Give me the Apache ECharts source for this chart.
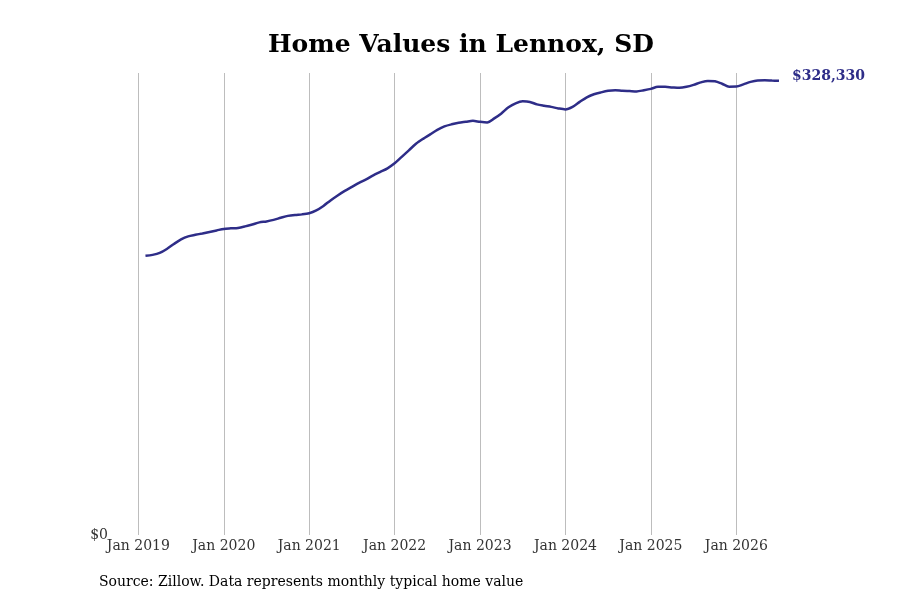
<!DOCTYPE html>
<html>
<head>
<meta charset="utf-8">
<title>Home Values in Lennox, SD</title>
<script src="https://cdn.jsdelivr.net/npm/echarts@6/dist/echarts.min.js"></script>
<style>
	html, body { margin: 0; padding: 0; background: #fff; }
	#chart { width: 900px; height: 600px; }
</style>
</head>
<body>
<div id="chart"></div>
<script>
// axis runs Oct 2018 .. Jul 2026, data starts Feb 2019
var start_year = 2018;
var start_month = 9; // 0-based, October
var month_names = ['Jan','Feb','Mar','Apr','May','Jun','Jul','Aug','Sep','Oct','Nov','Dec'];

// typical home value, Feb 2019 .. Jul 2026
var values_2019 = [201800, 202500, 203900, 206800, 210400, 213700, 215900, 217000, 218000, 219100, 220200];
var values_2020 = [221300, 221700, 222000, 223100, 224500, 226000, 226700, 227800, 229300, 230700, 231400, 231800];
var values_2021 = [232650, 234700, 237900, 241900, 245500, 248800, 251700, 254600, 257100, 260000, 262500, 265100];
var values_2022 = [268700, 273400, 278100, 282800, 286400, 289600, 292900, 295400, 296900, 298000, 298700, 299400];
var values_2023 = [298700, 298300, 301200, 304800, 309200, 312100, 313500, 313100, 311300, 310300, 309500, 308400];
var values_2024 = [307700, 309500, 313100, 316400, 318600, 320000, 321100, 321500, 321100, 320900, 320700, 321500];
var values_2025 = [322500, 324000, 324000, 323600, 323300, 324000, 325400, 327200, 328300, 328000, 326200, 324100];
var values_2026 = [324200, 325800, 327600, 328600, 328700, 328500, 328330];

var leading_gap = 4; // Oct 2018 .. Jan 2019 have no data
var y_max = 334000;

var values = [].concat(values_2019, values_2020, values_2021, values_2022,
	values_2023, values_2024, values_2025, values_2026);

var months = [];
var series_data = [];
var n_months = leading_gap + values.length;
for (let i = 0; i < n_months; i++) {
	var m = (start_month + i) % 12;
	var y = start_year + Math.floor((start_month + i) / 12);
	months.push(month_names[m] + ' ' + y);
	series_data.push(i < leading_gap ? null : values[i - leading_gap]);
}

function is_january(index, value) {
	return value.indexOf('Jan') === 0;
}

var serif = 'DejaVu Serif';
var line_color = '#2e2d88';

var chartDom = document.getElementById('chart');
var myChart = echarts.init(chartDom);
var option;

option = {
	animation: false,
	title: [
		{
			text: 'Home Values in Lennox, SD',
			left: 263,
			top: 28,
			textStyle: {
				fontFamily: serif,
				fontSize: 25,
				fontWeight: 'bold',
				color: '#000'
			}
		},
		{
			text: 'Source: Zillow. Data represents monthly typical home value',
			left: 94,
			top: 570,
			textStyle: {
				fontFamily: serif,
				fontSize: 14,
				fontWeight: 'normal',
				color: '#000'
			}
		}
	],
	grid: {
		left: 117,
		right: 121,
		top: 73,
		bottom: 65
	},
	xAxis: {
		type: 'category',
		data: months,
		boundaryGap: false,
		axisLine: { show: false },
		axisTick: { show: false },
		axisLabel: {
			interval: is_january,
			fontFamily: serif,
			fontSize: 14,
			color: '#333',
			margin: 4
		},
		splitLine: {
			show: true,
			interval: is_january,
			lineStyle: { color: '#bdbdbd', width: 1 }
		}
	},
	yAxis: {
		type: 'value',
		min: 0,
		max: y_max,
		interval: y_max,
		axisLine: { show: false },
		axisTick: { show: false },
		splitLine: { show: false },
		axisLabel: {
			fontFamily: serif,
			fontSize: 14,
			color: '#333',
			margin: 9,
			formatter: function (v) { return v === 0 ? '$0' : ''; }
		}
	},
	series: [
		{
			name: 'Home value',
			type: 'line',
			data: series_data,
			smooth: 0.3,
			showSymbol: false,
			connectNulls: false,
			lineStyle: { color: line_color, width: 2.5 },
			endLabel: {
				show: true,
				distance: 13,
				fontFamily: serif,
				fontSize: 14,
				fontWeight: 'bold',
				color: line_color,
				offset: [0, -4],
				formatter: function (p) { return '$' + p.value.toLocaleString('en-US'); }
			}
		}
	]
};

option && myChart.setOption(option);
</script>
</body>
</html>
